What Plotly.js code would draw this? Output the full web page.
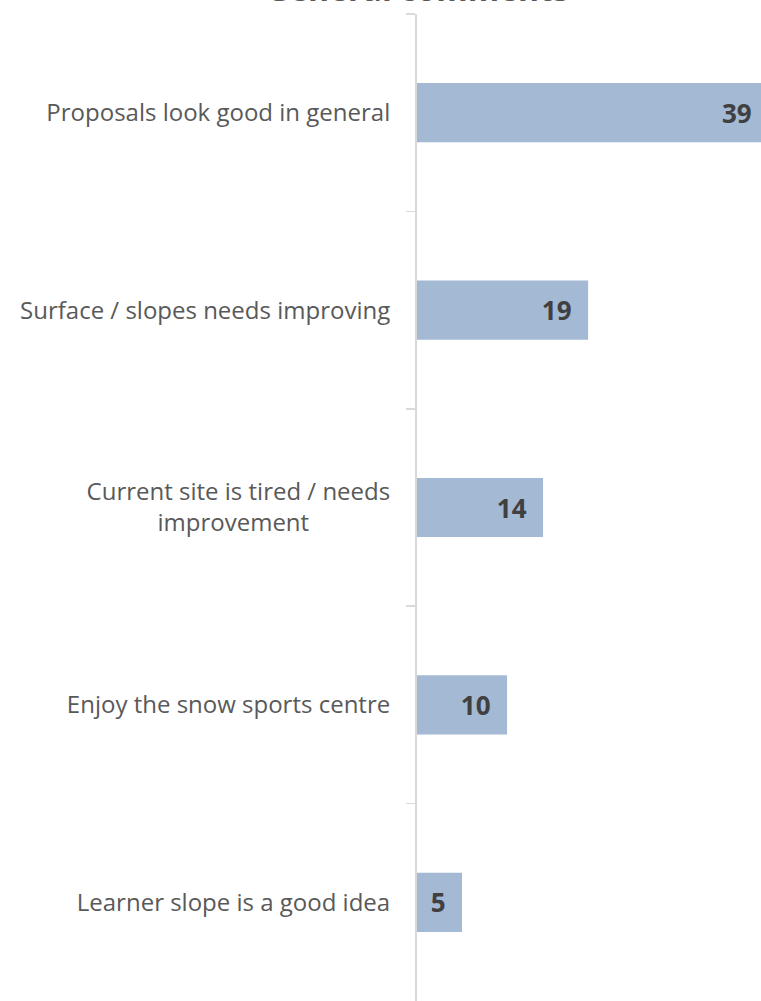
<!DOCTYPE html>
<html><head><meta charset="utf-8">
<script src="https://cdn.plot.ly/plotly-3.0.1.min.js"></script>
<style>html,body{margin:0;padding:0;background:#fff;overflow:hidden;width:761px;height:1001px}</style>
</head><body><div id="chart" style="width:770px;height:1001px"></div>
<script>
const categories = [
  "Proposals look good in general",
  "Surface / slopes needs improving",
  "Current site is tired / needs<br>improvement\u00A0\u00A0\u00A0\u00A0\u00A0\u00A0\u00A0\u00A0\u00A0\u00A0\u00A0\u00A0\u00A0",
  "Enjoy the snow sports centre",
  "Learner slope is a good idea"
];
const values = [39, 19, 14, 10, 5];
const titleText = "General comments";

const data = [{
  type: 'bar', orientation: 'h', x: values, y: categories,
  marker: {color: '#a4b9d4'}, hoverinfo: 'none',
  text: values.map(v => '<b>' + v + '</b>\u00A0\u00A0'),
  textposition: 'inside', insidetextanchor: 'end', constraintext: 'none',
  textfont: {family: 'Open Sans, sans-serif', size: 26, color: '#404040'},
  cliponaxis: false
}];

const layout = {
  width: 770, height: 1001,
  margin: {l: 417, r: 0, t: 14, b: 0},
  paper_bgcolor: '#fff', plot_bgcolor: '#fff',
  bargap: 0.7, showlegend: false,
  annotations: [{
    text: '<b>' + titleText + '</b>', xref: 'paper', yref: 'paper', x: 0, y: 1,
    xanchor: 'center', yanchor: 'bottom', showarrow: false, yshift: 2,
    font: {family: 'Open Sans, sans-serif', size: 32, color: '#595959'}
  }],
  xaxis: {range: [0, 39.2], showticklabels: false, showgrid: false, zeroline: false, showline: false, fixedrange: true},
  yaxis: {type: 'category', autorange: 'reversed', showgrid: false, zeroline: false,
          showline: true, linecolor: '#d9d9d9', linewidth: 2,
          ticks: 'outside', tickson: 'boundaries', ticklen: 9, tickcolor: '#d9d9d9', tickwidth: 1.5,
          ticklabelstandoff: 20,
          tickfont: {family: 'Open Sans, sans-serif', size: 24, color: '#595959'}}
};
Plotly.newPlot('chart', data, layout, {displayModeBar: false, staticPlot: true});
</script></body></html>
